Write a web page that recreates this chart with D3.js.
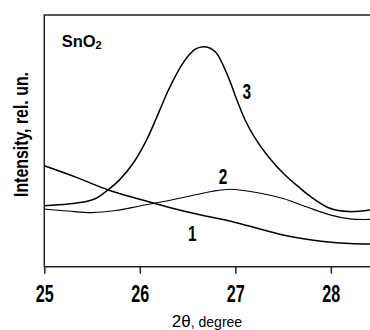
<!DOCTYPE html>
<html>
<head>
<meta charset="utf-8">
<script src="https://cdnjs.cloudflare.com/ajax/libs/d3/7.8.5/d3.min.js"></script>
<style>
  body { margin: 0; background: #fff; }
  svg { display: block; font-family: "Liberation Sans", Arial, sans-serif; }
</style>
</head>
<body>
<svg id="chart" width="370" height="330"></svg>
<script>
// 2theta (degree), intensity (rel. un., 0..100 over plot height)
const curve1 = [[25.00,40.1],[25.33,35.6],[25.67,30.5],[26.0,26.8],[26.5,21.7],[27.0,17.6],
  [27.5,12.6],[27.8,10.6],[28.0,9.7],[28.2,9.2],[28.41,9.0]];
const curve2 = [[25.0,22.9],[25.25,22.1],[25.5,21.5],[25.75,22.3],[26.0,24.1],[26.25,25.9],
  [26.5,27.9],[26.75,29.9],[26.95,30.8],[27.25,29.3],[27.5,27.1],[27.75,23.7],[28.0,20.5],
  [28.2,19.0],[28.41,18.8]];
const curve3 = [[25.0,24.2],[25.25,24.9],[25.45,26.0],[25.55,27.3],[25.61,28.8],[25.67,30.6],
  [25.79,34.6],[25.93,41.1],[26.07,50.3],[26.21,62.3],[26.30,70.2],[26.45,80.8],[26.58,86.4],
  [26.68,87.4],[26.79,85.4],[26.91,76.8],[27.03,64.9],[27.10,58.5],[27.20,51.5],[27.34,44.0],
  [27.52,36.4],[27.66,31.8],[27.78,28.1],[27.99,23.2],[28.19,21.9],[28.41,22.5]];
const xTicks = [25, 26, 27, 28];
// curve number labels: [label, 2theta, intensity at baseline]
const curveLabels = [['1', 26.55, 10.2], ['2', 26.87, 32.8], ['3', 27.12, 66.6]];

const mLeft = 44.3, mRight = 370, mTop = 15, mBottom = 266.7;
const svg = d3.select('#chart');

const x = d3.scaleLinear().domain([25, 28.41]).range([mLeft, mRight]);
const y = d3.scaleLinear().domain([0, 100]).range([mBottom, mTop]);

// frame (left, top, bottom)
svg.append('path')
  .attr('d', `M${mRight},${mTop}H${mLeft}V${mBottom}H${mRight}`)
  .attr('fill', 'none')
  .attr('stroke', '#222')
  .attr('stroke-width', 1.5);

const xAxis = svg.append('g')
  .attr('transform', `translate(0,${mBottom})`)
  .call(d3.axisBottom(x).tickValues(xTicks).tickSize(7).tickSizeOuter(0).tickFormat(d3.format('d')));
xAxis.select('.domain').remove();
xAxis.selectAll('.tick line').attr('stroke', '#222').attr('stroke-width', 1.5);
xAxis.selectAll('.tick text')
  .attr('y', 35.8)
  .attr('dy', 0)
  .attr('transform', 'scale(0.66,1)')
  .attr('fill', '#000')
  .style('font-family', '"Liberation Sans", Arial, sans-serif')
  .style('font-size', '24.5px')
  .style('font-weight', 'bold');

const line = d3.line()
  .x(d => x(d[0]))
  .y(d => y(d[1]))
  .curve(d3.curveCatmullRom.alpha(0.5));

[[curve1, 1.5], [curve2, 1.1], [curve3, 1.5]].forEach(([data, w]) => {
  svg.append('path')
    .datum(data)
    .attr('d', line)
    .attr('fill', 'none')
    .attr('stroke', '#000')
    .attr('stroke-width', w);
});

curveLabels.forEach(([t, a, b]) => {
  svg.append('text')
    .attr('transform', `translate(${x(a)},${y(b)}) scale(0.7,1)`)
    .attr('text-anchor', 'middle')
    .attr('font-size', 22)
    .attr('font-weight', 'bold')
    .text(t);
});

// SnO2
const sno = svg.append('text')
  .attr('x', 61.7)
  .attr('y', 46.7)
  .attr('font-size', 16.5)
  .attr('font-weight', 'bold');
sno.append('tspan').text('SnO');
sno.append('tspan').attr('font-size', 11).attr('dy', 2.5).text('2');

// y label
svg.append('text')
  .attr('transform', 'translate(27.5,134.5) rotate(-90)')
  .attr('text-anchor', 'middle')
  .attr('font-size', 21)
  .attr('font-weight', 'bold')
  .attr('textLength', 125)
  .attr('lengthAdjust', 'spacingAndGlyphs')
  .text('Intensity, rel. un.');

// x label
const xl = svg.append('text')
  .attr('x', 207)
  .attr('y', 327.3)
  .attr('text-anchor', 'middle')
  .attr('font-size', 17);
xl.append('tspan').text('2θ');
xl.append('tspan').attr('font-size', 14).text(', degree');
</script>
</body>
</html>
